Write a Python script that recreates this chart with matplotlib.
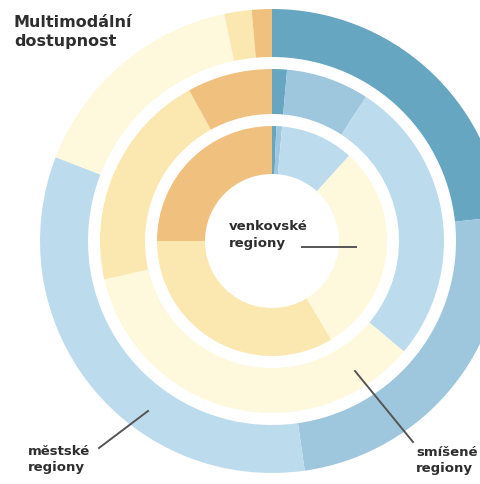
import matplotlib
matplotlib.use("Agg")
import matplotlib.pyplot as plt

# Share of each rating level per region type (percent), clockwise from 12 o'clock
levels = ["velmi dobrá", "dobrá", "spíše dobrá", "spíše slabá", "slabá", "velmi slabá"]
colors = ["#66a6c0", "#9ec6dd", "#bcdcee", "#fef8dc", "#fbe8b0", "#f0c07e"]
mestske = [23.3, 24.4, 33.1, 15.8, 1.9, 1.4]      # outer ring
smisene = [1.4, 7.8, 26.9, 35.3, 20.6, 8.0]       # middle ring
venkovske = [0.6, 0.8, 10.3, 29.7, 33.6, 25.0]    # inner ring

title = "Multimodální\ndostupnost"
lab_v = "venkovské\nregiony"
lab_m = "městské\nregiony"
lab_s = "smíšené\nregiony"

W, H = 481, 485
fig = plt.figure(figsize=(W / 100, H / 100), dpi=100)
ax = fig.add_axes([0, 0, 1, 1])
ax.set_xlim(0, W)
ax.set_ylim(0, H)
ax.axis("off")

def Y(y):
    return H - y

cx, cy = 272, Y(242)
rings = [(mestske, 232, 48), (smisene, 172, 45), (venkovske, 115, 48)]
for vals, r, w in rings:
    ax.pie(vals, colors=colors, radius=r, center=(cx, cy), startangle=90,
           counterclock=False,
           wedgeprops=dict(width=w, linewidth=0, edgecolor="none"))
ax.set_xlim(0, W)
ax.set_ylim(0, H)
ax.set_aspect("equal", adjustable="box")

txtc = "#2e2e2e"
linec = "#555555"
ax.text(14, Y(15), title, ha="left", va="top", fontsize=11.5,
        fontweight="bold", color=txtc, linespacing=1.3)
ax.text(229, Y(220), lab_v, ha="left", va="top", fontsize=9.5,
        fontweight="bold", color=txtc, linespacing=1.35)
ax.plot([302, 356], [Y(248), Y(248)], color=linec, lw=1.4)

ax.text(28, Y(445), lab_m, ha="left", va="top", fontsize=9.5,
        fontweight="bold", color=txtc, linespacing=1.35)
ax.plot([99, 148], [Y(449), Y(412)], color=linec, lw=1.4)

ax.text(416, Y(446), lab_s, ha="left", va="top", fontsize=9.5,
        fontweight="bold", color=txtc, linespacing=1.35)
ax.plot([355, 413], [Y(372), Y(443)], color=linec, lw=1.4)

fig.savefig("out.png", dpi=100)
